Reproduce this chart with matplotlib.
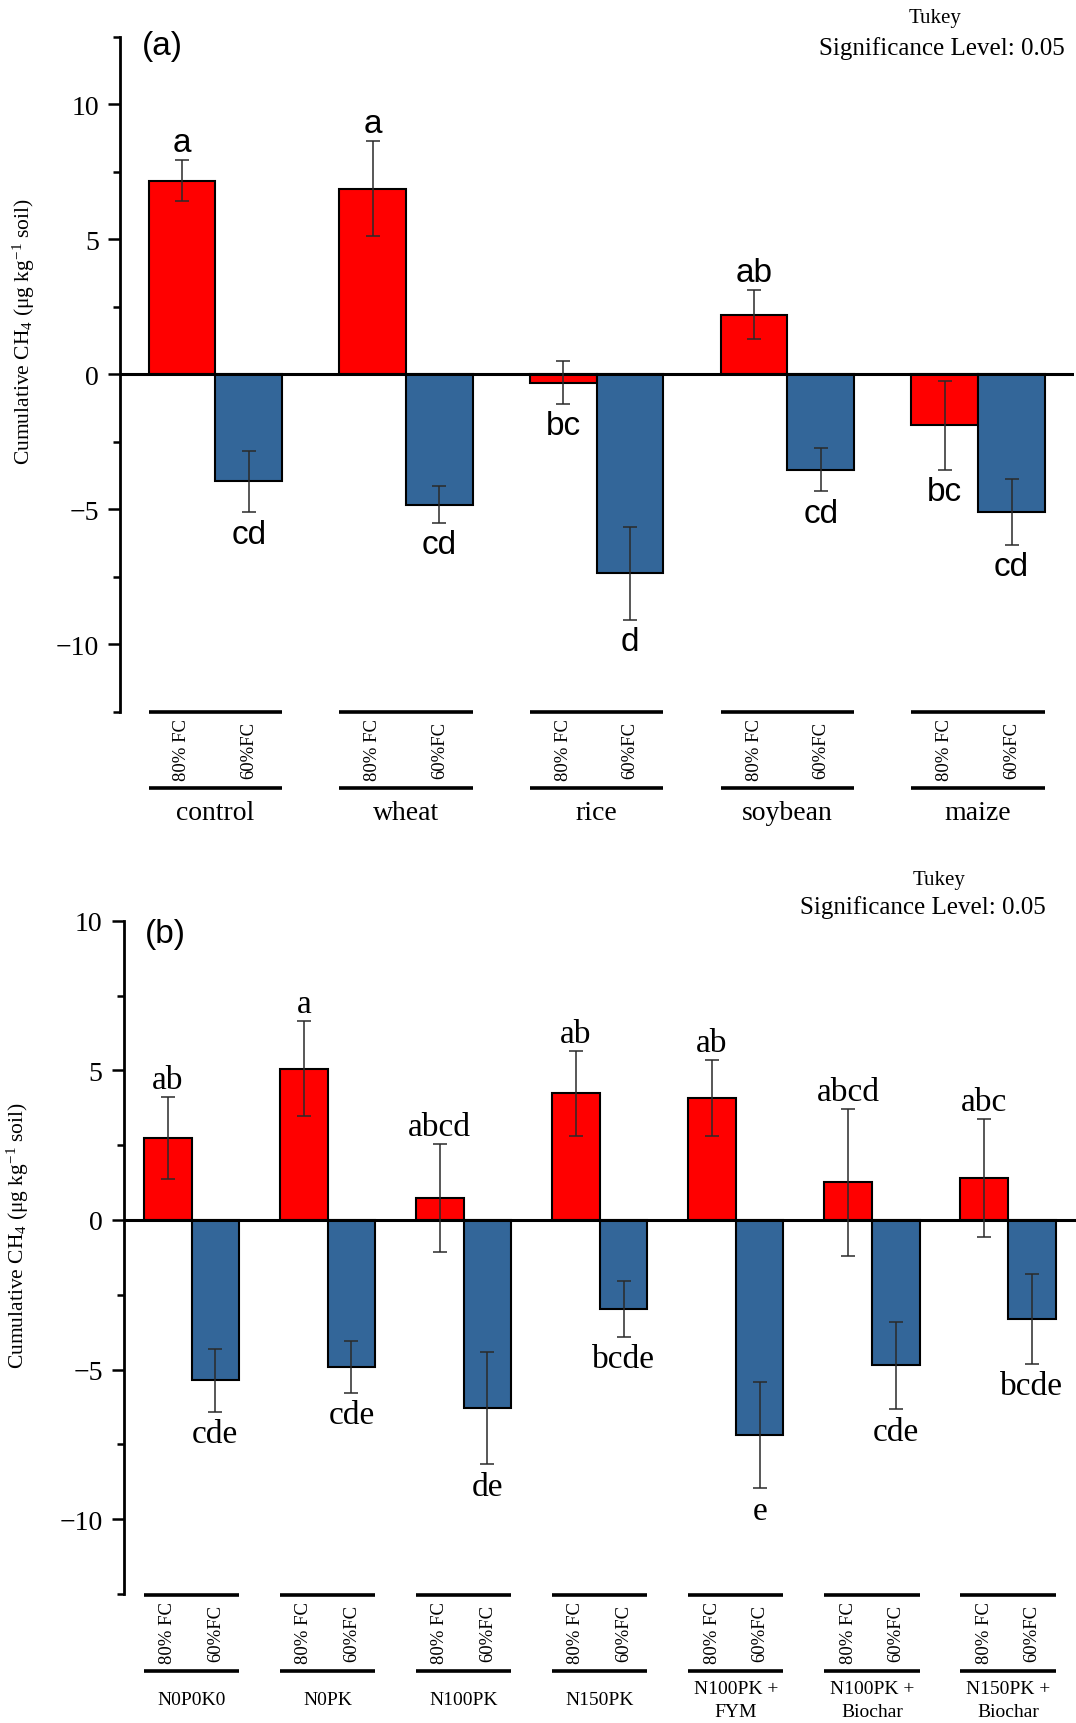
import matplotlib
matplotlib.use('Agg')
import matplotlib.pyplot as plt
import numpy as np
from matplotlib.ticker import MultipleLocator
from matplotlib.transforms import blended_transform_factory

plt.rcParams['font.family'] = ['Liberation Serif', 'DejaVu Serif']
plt.rcParams['mathtext.fontset'] = 'custom'
plt.rcParams['mathtext.rm'] = 'Liberation Serif'
plt.rcParams['mathtext.it'] = 'Liberation Serif:italic'
plt.rcParams['mathtext.default'] = 'regular'

# ---------------- data: panel (a) ----------------
crops_a = ['control', 'wheat', 'rice', 'soybean', 'maize']
fc80_a = [7.17, 6.87, -0.31, 2.21, -1.88]
fc80_err_a = [0.75, 1.76, 0.79, 0.91, 1.65]
fc60_a = [-3.97, -4.83, -7.37, -3.54, -5.10]
fc60_err_a = [1.14, 0.68, 1.73, 0.80, 1.22]
letters80_a = ['a', 'a', 'bc', 'ab', 'bc']
letters60_a = ['cd', 'cd', 'd', 'cd', 'cd']

# ---------------- data: panel (b) ----------------
treat_b = ['N0P0K0', 'N0PK', 'N100PK', 'N150PK', 'N100PK +\nFYM',
           'N100PK +\nBiochar', 'N150PK +\nBiochar']
fc80_b = [2.73, 5.06, 0.73, 4.23, 4.08, 1.26, 1.41]
fc80_err_b = [1.37, 1.58, 1.80, 1.41, 1.27, 2.46, 1.97]
fc60_b = [-5.36, -4.91, -6.29, -2.98, -7.19, -4.86, -3.30]
fc60_err_b = [1.04, 0.87, 1.87, 0.93, 1.77, 1.46, 1.50]
letters80_b = ['ab', 'a', 'abcd', 'ab', 'ab', 'abcd', 'abc']
letters60_b = ['cde', 'cde', 'de', 'bcde', 'e', 'cde', 'bcde']

sub_labels = ['80% FC', '60%FC']
ylabel = 'Cumulative CH$_4$ (μg kg$^{-1}$ soil)'

RED = '#FF0000'
BLUE = '#336699'
W, H = 1076, 1724
fig = plt.figure(figsize=(W / 100, H / 100), dpi=100)


def fy(ypix):
    return 1 - ypix / H


def panel(rect, ylim, cats, v80, e80, v60, e60, l80, l60, letter_font,
          tag, tag_pos, ylab_pos, tukey_pos, sub_y, line_ys, cat_y, cat_fs,
          cat_ls, neg_off):
    ax = fig.add_axes(rect)
    n = len(cats)
    x = np.arange(n)
    w = 0.35
    ekw = dict(ecolor='#2a2a2a', elinewidth=1.1, capsize=4.8, capthick=1.1, zorder=4)
    ax.bar(x - w / 2, v80, w, yerr=e80, color=RED, edgecolor='black',
           linewidth=1.5, error_kw=ekw, zorder=2)
    ax.bar(x + w / 2, v60, w, yerr=e60, color=BLUE, edgecolor='black',
           linewidth=1.5, error_kw=ekw, zorder=2)
    ax.axhline(0, color='black', lw=2.2, zorder=3)
    ax.set_xlim(-0.5, n - 0.5)
    ax.set_ylim(*ylim)
    for s in ['top', 'right', 'bottom']:
        ax.spines[s].set_visible(False)
    ax.spines['left'].set_linewidth(2)
    ax.tick_params(axis='x', bottom=False, labelbottom=False)
    ax.yaxis.set_major_locator(MultipleLocator(5))
    ax.yaxis.set_minor_locator(MultipleLocator(2.5))
    ax.tick_params(axis='y', which='major', length=9, width=1.8,
                   labelsize=20, pad=6)
    ax.tick_params(axis='y', which='minor', length=5, width=1.8)
    ax.patch.set_alpha(0)

    # significance letters
    for xs, vals, errs, labs in [(x - w / 2, v80, e80, l80), (x + w / 2, v60, e60, l60)]:
        for xi, v, e, lab in zip(xs, vals, errs, labs):
            if v >= 0:
                ax.annotate(lab, (xi, v + e), xytext=(0, 1.5), textcoords='offset points',
                            ha='center', va='bottom', fontsize=24, family=letter_font,
                            zorder=5)
            else:
                ax.annotate(lab, (xi, v - e), xytext=(0, neg_off), textcoords='offset points',
                            ha='center', va='top', fontsize=24, family=letter_font,
                            zorder=5)

    # category brackets below the axis
    tr = blended_transform_factory(ax.transData, fig.transFigure)
    for xi, cat in zip(x, cats):
        for ly in line_ys:
            ax.plot([xi - w, xi + w], [fy(ly), fy(ly)], transform=tr, color='black',
                    lw=2.6, clip_on=False, solid_capstyle='butt')
        for k, sl in enumerate(sub_labels):
            ax.text(xi + (k - 0.5) * w, fy(sub_y), sl, transform=tr, rotation=90,
                    ha='center', va='center', fontsize=13.5)
        ax.text(xi, fy(cat_y), cat, transform=tr, ha='center', va='center',
                fontsize=cat_fs, linespacing=cat_ls)

    fig.text(tag_pos[0] / W, fy(tag_pos[1]), tag, ha='left', va='center',
             fontsize=24, family=['Liberation Sans', 'DejaVu Sans'])
    fig.text(ylab_pos[0] / W, fy(ylab_pos[1]), ylabel, rotation=90,
             ha='center', va='center', fontsize=15.5)
    fig.text(tukey_pos[0] / W, fy(tukey_pos[1]), 'Tukey', ha='center',
             va='baseline', fontsize=15)
    fig.text(tukey_pos[2] / W, fy(tukey_pos[3]), 'Significance Level: 0.05',
             ha='center', va='baseline', fontsize=18)
    return ax


# panel (a): axes from x=120 to 1074 px, y 37.8 to 712.8 px
panel([120 / W, fy(712.8), 953.5 / W, 675 / H], (-12.5, 12.5),
      crops_a, fc80_a, fc80_err_a, fc60_a, fc60_err_a, letters80_a, letters60_a,
      ['Liberation Sans', 'DejaVu Sans'], '(a)', (142, 47), (24, 332),
      (935, 23, 942, 55), 750, (713, 788.7), 814, 20, 1.15, -4.5)

# panel (b): axes from x=123.5 to 1076 px, y 921.7 to 1595.1 px
panel([123.5 / W, fy(1595.1), 952.5 / W, 673.4 / H], (-12.5, 10),
      treat_b, fc80_b, fc80_err_b, fc60_b, fc60_err_b, letters80_b, letters60_b,
      ['Liberation Serif', 'DejaVu Serif'], '(b)', (145, 935), (18, 1236),
      (939, 885, 923, 914), 1633, (1595.7, 1671.7), 1701, 14, 1.5, -5)

fig.savefig('out.png', dpi=100)
